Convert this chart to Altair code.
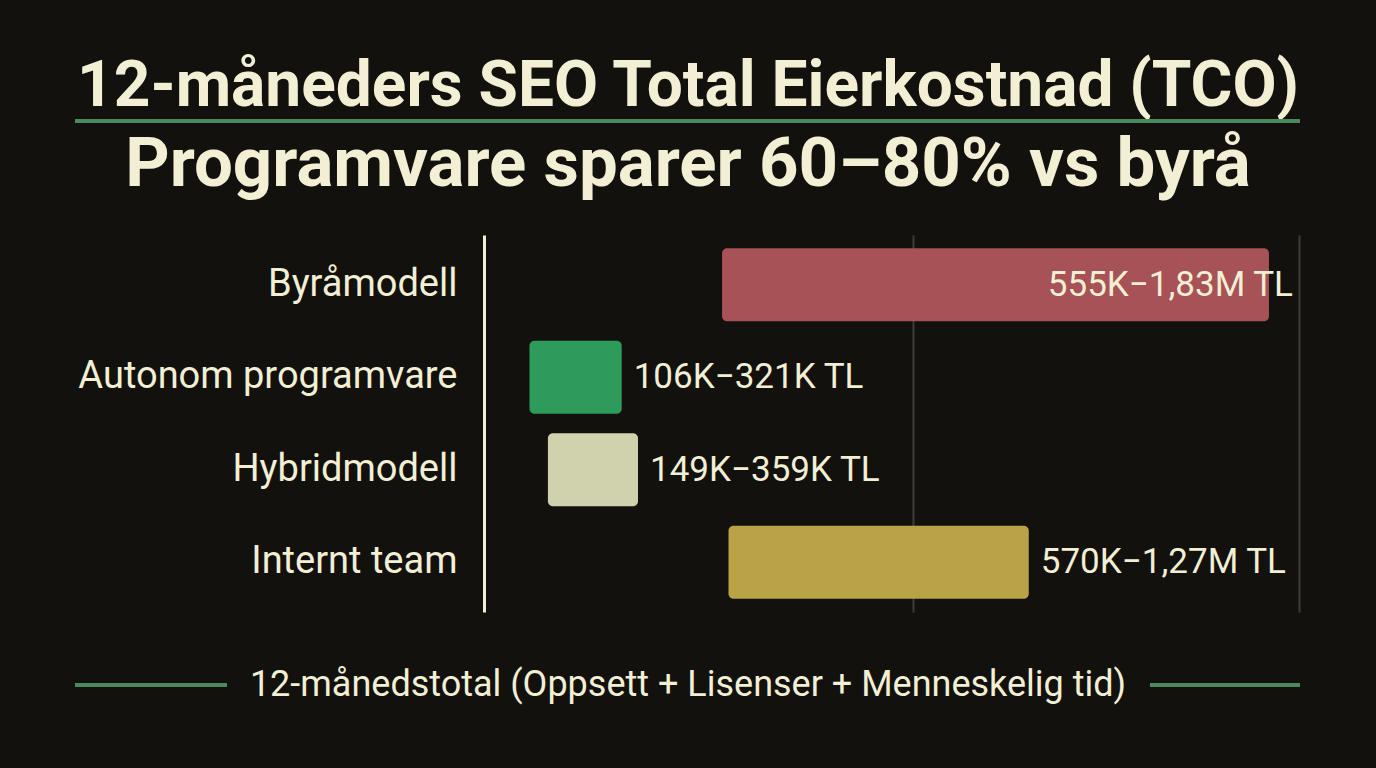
import altair as alt
import pandas as pd

# ---- data ----
categories = ["Byråmodell", "Autonom programvare", "Hybridmodell", "Internt team"]
low_k = [555, 106, 149, 570]        # thousand TL
high_k = [1830, 321, 359, 1270]     # thousand TL
value_labels = ["555K−1,83M TL", "106K−321K TL", "149K−359K TL", "570K−1,27M TL"]
bar_colors = ["#a65256", "#2d9b59", "#d0d2ad", "#b9a346"]

title_text = "12-måneders SEO Total Eierkostnad (TCO)"
subtitle_text = "Programvare sparer 60–80% vs byrå"
footer_text = "12-månedstotal (Oppsett + Lisenser + Menneskelig tid)"

CREAM = "#f3efd4"
GREEN_LINE = "#4a8a5d"
BG = "#12110d"
FONT = "Roboto"

# make the page background match the chart background (no white margin)
try:
    import importlib
    import altair.utils.html as _alt_html
    _orig_spec_to_html = _alt_html.spec_to_html

    def _spec_to_html_dark(*args, **kwargs):
        html = _orig_spec_to_html(*args, **kwargs)
        style = "<style>html,body{background:%s !important;}</style>" % BG
        if "<head>" in html:
            return html.replace("<head>", "<head>" + style, 1)
        return style + html

    for _modname in ["altair.utils.html", "altair.utils.mimebundle", "altair.utils.save"]:
        try:
            _m = importlib.import_module(_modname)
            if hasattr(_m, "spec_to_html"):
                _m.spec_to_html = _spec_to_html_dark
        except Exception:
            pass
except Exception:
    pass

df = pd.DataFrame({
    "kategori": categories,
    "lav": [v * 1000 for v in low_k],
    "hoy": [v * 1000 for v in high_k],
    "etikett": value_labels,
})

y_enc = alt.Y(
    "kategori:N",
    sort=categories,
    scale=alt.Scale(paddingInner=0.21, paddingOuter=0.143),
    axis=alt.Axis(
        title=None, ticks=False, labelFontSize=38, labelFont=FONT,
        labelColor=CREAM, labelPadding=27, labelLimit=600,
        domainColor=CREAM, domainWidth=3,
    ),
)
x_scale = alt.Scale(domain=[0, 1900000], nice=False, zero=True)

bars = alt.Chart(df).mark_bar(cornerRadius=5).encode(
    x=alt.X(
        "lav:Q", scale=x_scale,
        axis=alt.Axis(
            title=None, values=[1000000, 1900000], labels=False, ticks=False,
            domain=False, grid=True, gridColor="#3d3c37", gridWidth=2,
        ),
    ),
    x2="hoy:Q",
    y=y_enc,
    color=alt.Color("kategori:N", scale=alt.Scale(domain=categories, range=bar_colors), legend=None),
)

labels_out = alt.Chart(df).transform_filter(
    alt.datum.kategori != "Byråmodell"
).mark_text(align="left", baseline="middle", dx=12, fontSize=35, font=FONT, color=CREAM).encode(
    x=alt.X("hoy:Q", scale=x_scale), y=y_enc, text="etikett:N"
)

labels_in = alt.Chart(df).transform_filter(
    alt.datum.kategori == "Byråmodell"
).mark_text(align="right", baseline="middle", dx=24, fontSize=35, font=FONT, color=CREAM).encode(
    x=alt.X("hoy:Q", scale=x_scale), y=y_enc, text="etikett:N"
)

one = alt.Data(values=[{"t": title_text, "s": subtitle_text, "f": footer_text}])

title_mark = alt.Chart(one).mark_text(
    align="center", baseline="alphabetic", fontSize=64, fontWeight="bold", font=FONT, color=CREAM
).encode(x=alt.value(204), y=alt.value(-129), text="t:N")

subtitle_mark = alt.Chart(one).mark_text(
    align="center", baseline="alphabetic", fontSize=69, fontWeight="bold", font=FONT, color=CREAM
).encode(x=alt.value(204), y=alt.value(-49), text="s:N")

footer_mark = alt.Chart(one).mark_text(
    align="center", baseline="middle", fontSize=36, font=FONT, color=CREAM
).encode(x=alt.value(204), y=alt.value(450), text="f:N")

title_rule = alt.Chart(one).mark_rule(color=GREEN_LINE, strokeWidth=4).encode(
    x=alt.value(-409), x2=alt.value(816), y=alt.value(-114)
)
footer_rule_l = alt.Chart(one).mark_rule(color=GREEN_LINE, strokeWidth=4).encode(
    x=alt.value(-409), x2=alt.value(-257), y=alt.value(450)
)
footer_rule_r = alt.Chart(one).mark_rule(color=GREEN_LINE, strokeWidth=4).encode(
    x=alt.value(666), x2=alt.value(816), y=alt.value(450)
)

chart = alt.layer(
    bars, labels_out, labels_in, title_mark, subtitle_mark, footer_mark,
    title_rule, footer_rule_l, footer_rule_r,
).properties(
    width=815, height=377,
    autosize=alt.AutoSizeParams(type="none"),
    padding={"left": 476, "top": 227, "right": 69, "bottom": 148},
    background=BG,
).configure_view(stroke=None)

chart.save("out.html", embed_options={"renderer": "svg", "actions": False})
